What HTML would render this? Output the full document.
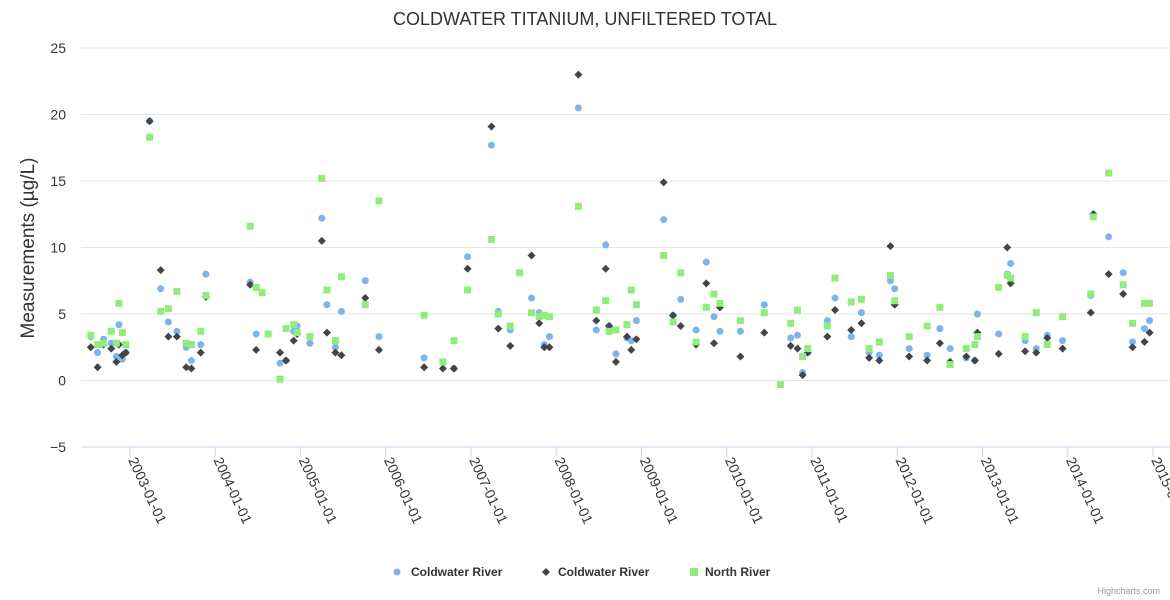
<!DOCTYPE html>
<html><head><meta charset="utf-8"><style>
body{margin:0;background:#fff;}
svg{display:block;font-family:"Liberation Sans","DejaVu Sans",sans-serif;}
</style></head><body>
<svg id="chart" width="1170" height="600">
<text x="585" y="25" text-anchor="middle" font-size="18" fill="#333">COLDWATER TITANIUM, UNFILTERED TOTAL</text>
<text transform="translate(34,248) rotate(-90)" text-anchor="middle" font-size="19" fill="#333">Measurements (µg/L)</text>
<g id="grid"></g><g id="xaxis"></g><g id="marks"></g>
<g>
<g><circle cx="397" cy="572" r="3.5" fill="#7cb5ec"/><text x="411" y="576" font-size="12" font-weight="bold" fill="#333">Coldwater River</text></g>
<g><path d="M546 568 L550 572 L546 576 L542 572Z" fill="#434348"/><text x="558" y="576" font-size="12" font-weight="bold" fill="#333">Coldwater River</text></g>
<g><rect x="690" y="568" width="8" height="8" fill="#90ed7d"/><text x="705" y="576" font-size="12" font-weight="bold" fill="#333">North River</text></g>
</g>
<text x="1160" y="594" text-anchor="end" font-size="9" fill="#999">Highcharts.com</text>
</svg>
<script>
const dates=[2002.54,2002.62,2002.69,2002.78,2002.84,2002.87,2002.91,2002.95,2003.23,2003.36,2003.45,2003.55,2003.66,2003.72,2003.83,2003.89,2004.41,2004.48,2004.55,2004.62,2004.76,2004.83,2004.92,2004.96,2005.11,2005.25,2005.31,2005.41,2005.48,2005.76,2005.92,2006.45,2006.67,2006.80,2006.96,2007.24,2007.32,2007.46,2007.57,2007.71,2007.80,2007.86,2007.92,2008.26,2008.47,2008.58,2008.62,2008.70,2008.83,2008.88,2008.94,2009.26,2009.37,2009.46,2009.64,2009.76,2009.85,2009.92,2010.16,2010.44,2010.63,2010.75,2010.83,2010.89,2010.95,2011.18,2011.27,2011.46,2011.58,2011.67,2011.79,2011.92,2011.97,2012.14,2012.35,2012.50,2012.62,2012.81,2012.91,2012.94,2013.19,2013.29,2013.33,2013.50,2013.63,2013.76,2013.94,2014.27,2014.30,2014.48,2014.65,2014.76,2014.90,2014.96];
const coldwaterBlue=[3.3,2.1,3.1,2.8,1.8,4.2,1.6,2.1,19.5,6.9,4.4,3.7,2.5,1.5,2.7,8.0,7.4,3.5,null,null,1.3,1.5,3.7,4.1,2.8,12.2,5.7,2.5,5.2,7.5,3.3,1.7,null,0.9,9.3,17.7,5.2,3.8,null,6.2,5.1,2.7,3.3,20.5,3.8,10.2,4.1,2.0,3.2,3.0,4.5,12.1,4.9,6.1,3.8,8.9,4.8,3.7,3.7,5.7,null,3.2,3.4,0.6,2.1,4.5,6.2,3.3,5.1,2.1,1.9,7.5,6.9,2.4,1.9,3.9,2.4,1.7,1.5,5.0,3.5,8.0,8.8,3.0,2.4,3.4,3.0,6.4,12.5,10.8,8.1,2.9,3.9,4.5];
const coldwaterBlack=[2.5,1.0,2.7,2.4,1.4,2.7,1.9,2.1,19.5,8.3,3.3,3.3,1.0,0.9,2.1,6.3,7.2,2.3,null,null,2.1,1.5,3.0,3.5,null,10.5,3.6,2.1,1.9,6.2,2.3,1.0,0.9,0.9,8.4,19.1,3.9,2.6,null,9.4,4.3,2.5,2.5,23.0,4.5,8.4,4.1,1.4,3.3,2.3,3.1,14.9,4.9,4.1,2.7,7.3,2.8,5.5,1.8,3.6,null,2.6,2.4,0.4,2.1,3.3,5.3,3.8,4.3,1.7,1.5,10.1,5.7,1.8,1.5,2.8,1.4,1.8,1.5,3.6,2.0,10.0,7.3,2.2,2.1,3.2,2.4,5.1,12.5,8.0,6.5,2.5,2.9,3.6];
const northRiver=[3.4,2.7,2.8,3.7,2.8,5.8,3.6,2.7,18.3,5.2,5.4,6.7,2.8,2.7,3.7,6.4,11.6,7.0,6.6,3.5,0.1,3.9,4.2,3.6,3.3,15.2,6.8,3.0,7.8,5.7,13.5,4.9,1.4,3.0,6.8,10.6,5.0,4.1,8.1,5.1,4.8,4.9,4.8,13.1,5.3,6.0,3.7,3.8,4.2,6.8,5.7,9.4,4.4,8.1,2.9,5.5,6.5,5.8,4.5,5.1,-0.3,4.3,5.3,1.8,2.4,4.1,7.7,5.9,6.1,2.4,2.9,7.9,6.0,3.3,4.1,5.5,1.2,2.4,2.7,3.3,7.0,7.9,7.7,3.3,5.1,2.7,4.8,6.5,12.3,15.6,7.2,4.3,5.8,5.8];
const yTicks=[-5,0,5,10,15,20,25];
const xTicks=[2003,2004,2005,2006,2007,2008,2009,2010,2011,2012,2013,2014,2015];
const NS="http://www.w3.org/2000/svg";
function X(yr){return 130+(yr-2003)*85.25;}
function Y(v){return 380.5-v*13.3;}
function mk(tag,attrs,parent){const e=document.createElementNS(NS,tag);for(const k in attrs)e.setAttribute(k,attrs[k]);parent.appendChild(e);return e;}
const grid=document.getElementById('grid'),xa=document.getElementById('xaxis'),marks=document.getElementById('marks');
yTicks.forEach(t=>{
  if(t!==-5){const l=mk('line',{x1:81,x2:1170,y1:Y(t),y2:Y(t),stroke:'#e6e6e6','stroke-width':1},grid);
  
  }
  const tx=mk('text',{x:66,y:Y(t)+5,'text-anchor':'end','font-size':14,fill:'#333'},grid);
  tx.textContent=t<0?'\u2212'+Math.abs(t):String(t);
  
  
});
const ax=mk('line',{x1:81,x2:1170,y1:447,y2:447,stroke:'#ccd6eb','stroke-width':1},xa);


xTicks.forEach(t=>{
  const x=X(t);
  const tk=mk('line',{x1:x,x2:x,y1:447,y2:457,stroke:'#ccd6eb'},xa);
  
  
  const tx=mk('text',{transform:'translate('+(x-2)+',460) rotate(65)','font-size':14,fill:'#333'},xa);
  tx.textContent=t+'-01-01';
  
  
});
dates.forEach((d,i)=>{const v=coldwaterBlue[i];if(v==null)return;
  const c=mk('circle',{cx:X(d),cy:Y(v),r:3.5,fill:'#7cb5ec'},marks);
  
  });
dates.forEach((d,i)=>{const v=coldwaterBlack[i];if(v==null)return;const x=X(d),y=Y(v);
  const p=mk('path',{d:`M${x} ${y-4}L${x+4} ${y}L${x} ${y+4}L${x-4} ${y}Z`,fill:'#434348'},marks);
  
  });
dates.forEach((d,i)=>{const v=northRiver[i];if(v==null)return;
  const r=mk('rect',{x:X(d)-3.5,y:Y(v)-3.5,width:7,height:7,fill:'#90ed7d'},marks);
  
  });
</script>
</body></html>
